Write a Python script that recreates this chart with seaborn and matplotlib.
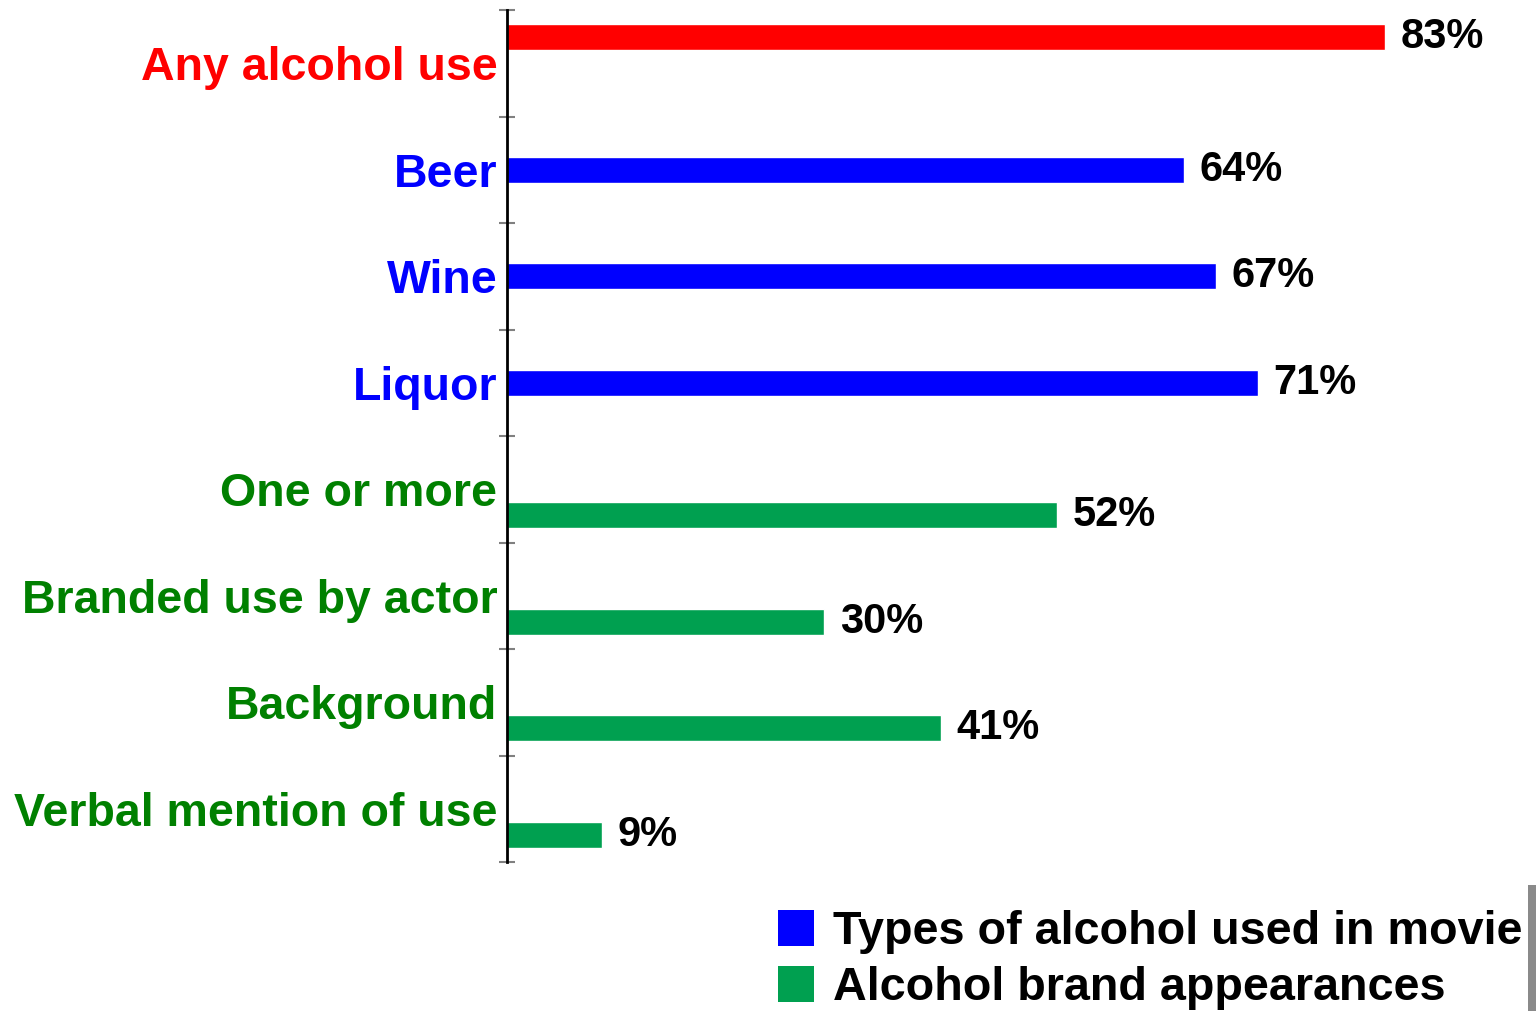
import matplotlib
matplotlib.use("Agg")
import matplotlib.pyplot as plt
import seaborn as sns
import pandas as pd
from matplotlib.patches import Patch, Rectangle

categories = ["Any alcohol use", "Beer", "Wine", "Liquor", "One or more",
              "Branded use by actor", "Background", "Verbal mention of use"]
values = [83, 64, 67, 71, 52, 30, 41, 9]
groups = ["Any", "Types", "Types", "Types", "Brand", "Brand", "Brand", "Brand"]
group_order = ["Any", "Types", "Brand"]
bar_colors = {"Any": "#FF0000", "Types": "#0000FF", "Brand": "#00A050"}
label_colors = {"Any": "#FF0000", "Types": "#0000FF", "Brand": "#008000"}
legend_labels = ["Types of alcohol used in movie", "Alcohol brand appearances"]

sns.set_theme(style="white")
plt.rcParams["font.family"] = ["Liberation Sans", "DejaVu Sans"]
plt.rcParams["text.color"] = "black"

df = pd.DataFrame({"category": categories, "value": values, "group": groups})

fig = plt.figure(figsize=(15.36, 10.11), dpi=100)
ax = fig.add_axes([507 / 1536, 1 - 862 / 1011, 1 - 507 / 1536, (862 - 10) / 1011])

sns.barplot(data=df, y="category", x="value", hue="group", order=categories,
            hue_order=group_order, palette=bar_colors, dodge=True, width=0.73,
            orient="h", saturation=1, legend=False, ax=ax)

for cont in ax.containers:
    ax.bar_label(cont, fmt="%g%%", padding=11, fontsize=30, fontweight="bold",
                 color="black")

ax.set_xlim(0, (1536 - 507) / 10.58)
ax.set_ylim(len(categories) - 0.5, -0.5)
ax.set_xlabel("")
ax.set_ylabel("")
ax.set_xticks([])
ax.set_yticks(range(len(categories)))
ax.set_yticklabels(categories, fontsize=33.5, fontweight="bold")
for lab, g in zip(ax.get_yticklabels(), groups):
    lab.set_color(label_colors[g])
ax.set_yticks([i - 0.5 for i in range(len(categories) + 1)], minor=True)
ax.tick_params(axis="y", which="major", length=0, pad=7)
ax.tick_params(axis="y", which="minor", length=12, width=1.5, direction="inout",
               color="#808080", left=True)
mt = ax.yaxis.get_minor_ticks()
for t in (mt[0], mt[-1]):
    t.tick1line.set_color("black")

for s in ["top", "right", "bottom"]:
    ax.spines[s].set_visible(False)
ax.spines["left"].set_color("black")
ax.spines["left"].set_linewidth(2)

handles = [Patch(facecolor=bar_colors["Types"], edgecolor="none"),
           Patch(facecolor=bar_colors["Brand"], edgecolor="none")]
leg = fig.legend(handles, legend_labels, loc="upper left",
                 bbox_to_anchor=(778 / 1536, 1 - 910 / 1011),
                 frameon=False, borderpad=0, borderaxespad=0,
                 handlelength=0.76, handleheight=0.8, handletextpad=0.41,
                 labelspacing=0.25, labelcolor="black",
                 prop={"family": ["Liberation Sans", "DejaVu Sans"],
                       "weight": "bold", "size": 33.7})

fig.patches.append(Rectangle((1528 / 1536, 0), 8 / 1536, 126 / 1011,
                             transform=fig.transFigure, facecolor="#8a8a8a",
                             edgecolor="none"))

fig.savefig("out.png", dpi=100)
